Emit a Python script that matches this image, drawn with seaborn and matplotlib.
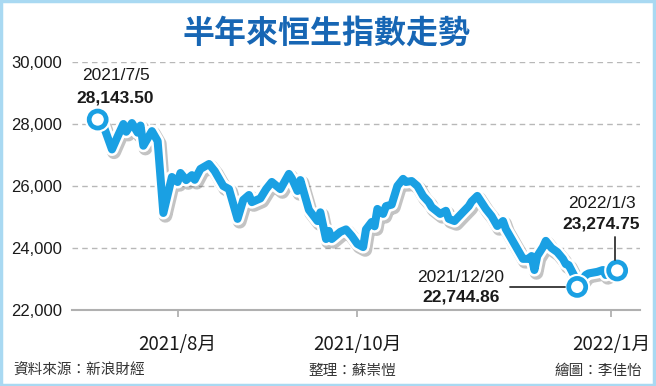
import matplotlib
matplotlib.use("Agg")
import matplotlib.pyplot as plt
import matplotlib.patheffects as pe
from matplotlib.patches import Rectangle
from matplotlib.lines import Line2D
import seaborn as sns
import pandas as pd

# ---------------- data ----------------
dates = [
    "2021-07-05", "2021-07-07", "2021-07-10", "2021-07-12", "2021-07-14", "2021-07-15",
    "2021-07-17", "2021-07-19", "2021-07-20", "2021-07-21", "2021-07-24", "2021-07-26",
    "2021-07-28", "2021-07-31", "2021-08-02", "2021-08-03", "2021-08-05", "2021-08-07",
    "2021-08-08", "2021-08-10", "2021-08-13", "2021-08-15", "2021-08-18", "2021-08-20",
    "2021-08-23", "2021-08-25", "2021-08-27", "2021-08-28", "2021-08-31", "2021-09-02",
    "2021-09-04", "2021-09-07", "2021-09-10", "2021-09-11", "2021-09-13", "2021-09-14",
    "2021-09-17", "2021-09-20", "2021-09-21", "2021-09-23", "2021-09-24", "2021-09-25",
    "2021-09-28", "2021-09-30", "2021-10-02", "2021-10-04", "2021-10-06", "2021-10-07",
    "2021-10-09", "2021-10-10", "2021-10-11", "2021-10-13", "2021-10-14", "2021-10-16",
    "2021-10-18", "2021-10-20", "2021-10-21", "2021-10-23", "2021-10-25", "2021-10-27",
    "2021-10-29", "2021-10-30", "2021-11-02", "2021-11-04", "2021-11-05", "2021-11-07",
    "2021-11-10", "2021-11-12", "2021-11-13", "2021-11-15", "2021-11-18", "2021-11-20",
    "2021-11-22", "2021-11-24", "2021-11-25", "2021-11-27", "2021-11-29", "2021-12-01",
    "2021-12-03", "2021-12-04", "2021-12-05", "2021-12-06", "2021-12-08", "2021-12-09",
    "2021-12-11", "2021-12-13", "2021-12-15", "2021-12-16", "2021-12-17", "2021-12-19",
    "2021-12-20", "2021-12-23", "2021-12-24", "2021-12-27", "2021-12-29", "2021-12-30",
    "2022-01-01", "2022-01-03",
]
values = [
    28143.50, 27950, 27180, 27600, 28000, 27750,
    28030, 27720, 27950, 27300, 27770, 27450,
    25130, 26290, 26130, 26420, 26190, 26350,
    26200, 26550, 26710, 26480, 26000, 25900,
    24940, 25550, 25710, 25480, 25600, 25900,
    26130, 25900, 26390, 26250, 25840, 26190,
    25230, 24870, 25150, 24290, 24550, 24290,
    24520, 24600, 24390, 24130, 24030, 24600,
    24840, 24700, 25260, 25100, 25350, 25400,
    26000, 26230, 26130, 26160, 26000, 25680,
    25480, 25320, 25100, 25200, 24940, 24870,
    25160, 25350, 25500, 25680, 25260, 25030,
    24710, 24870, 24610, 24290, 23970, 23650,
    23650, 23740, 23290, 23740, 24030, 24230,
    24000, 23870, 23650, 23480, 23450, 23100,
    22744.86, 23130, 23180, 23230, 23290, 23130,
    23220, 23274.75,
]
highlight_dates = ["2021-07-05", "2021-12-20", "2022-01-03"]
highlight_labels = ["2021/7/5", "2021/12/20", "2022/1/3"]
highlight_values = ["28,143.50", "22,744.86", "23,274.75"]
y_ticks = [22000, 24000, 26000, 28000, 30000]
tick_dates = ["2021-08-02", "2021-10-04", "2022-01-01"]
tick_labels = ["2021/8月", "2021/10月", "2022/1月"]
title = "半年來恒生指數走勢"
footer = ["資料來源：新浪財經", "整理：蘇崇愷", "繪圖：李佳怡"]

# ---------------- style ----------------
BLUE = "#1aa0e3"
TITLE_BLUE = "#1766b4"
GRID = "#b8b8b8"
CJK = ["Noto Sans CJK TC", "DejaVu Sans"]
LAT = ["Liberation Sans", "DejaVu Sans"]

sns.set_theme(style="white")
plt.rcParams["font.family"] = CJK

W, H = 656, 386
fig = plt.figure(figsize=(W / 100, H / 100), dpi=100)
fig.patch.set_facecolor("white")
ax = fig.add_axes([72 / W, 1 - 310 / H, (640 - 72) / W, (310 - 62) / H])

df = pd.DataFrame({"date": pd.to_datetime(dates), "value": values})
sns.lineplot(data=df, x="date", y="value", ax=ax, color=BLUE, linewidth=5.8, zorder=5)
line = ax.lines[0]
line.set_solid_joinstyle("round")
line.set_solid_capstyle("round")
line.set_path_effects([
    pe.SimpleLineShadow(offset=(1.5, -2), shadow_color="#555555", alpha=0.35, linewidth=10),
    pe.Stroke(linewidth=9.5, foreground="white"),
    pe.Normal(),
])

hl = df[df["date"].isin(pd.to_datetime(highlight_dates))]
sns.scatterplot(data=hl, x="date", y="value", ax=ax, s=150, color="white",
                edgecolor=BLUE, linewidth=3.4, zorder=7, legend=False)
coll = ax.collections[-1]
coll.set_path_effects([
    pe.SimplePatchShadow(offset=(1.5, -2), shadow_rgbFace="#555555", alpha=0.3),
    pe.Stroke(linewidth=6.5, foreground="white"),
    pe.Normal(),
])

ax.set_ylim(y_ticks[0], y_ticks[-1])
ax.set_xlim(pd.Timestamp("2021-06-26"), pd.Timestamp("2022-01-11"))
ax.set_yticks(y_ticks)
ax.set_yticklabels([f"{v:,}" for v in y_ticks], fontsize=12, family=LAT, color="#1a1a1a")
ax.set_xticks(pd.to_datetime(tick_dates))
ax.set_xticklabels(tick_labels, fontsize=13.5, family=CJK, color="#1a1a1a")
ax.set_xlabel("")
ax.set_ylabel("")
ax.tick_params(axis="y", length=0, pad=7)
ax.tick_params(axis="x", length=5, width=1.2, color="#aaaaaa", pad=12, direction="out", bottom=True)
ax.yaxis.grid(True, linestyle=(0, (4, 3)), color=GRID, linewidth=1)
ax.xaxis.grid(False)
ax.set_axisbelow(True)
for s in ["top", "left", "right"]:
    ax.spines[s].set_visible(False)
ax.spines["bottom"].set_color("#b0b0b0")
ax.spines["bottom"].set_linewidth(1.5)
ax.patch.set_alpha(0)

# ---------------- annotations ----------------
def fx(px):
    return px / W

def fy(py):
    return 1 - py / H

fig.text(fx(116), fy(76), highlight_labels[0], ha="center", va="center",
         fontsize=12.5, family=LAT, color="#1a1a1a")
fig.text(fx(115), fy(98), highlight_values[0], ha="center", va="center",
         fontsize=12.5, family=LAT, weight="bold", color="#1a1a1a")

fig.text(fx(461), fy(277), highlight_labels[1], ha="center", va="center",
         fontsize=12.5, family=LAT, color="#1a1a1a")
fig.text(fx(461), fy(297), highlight_values[1], ha="center", va="center",
         fontsize=12.5, family=LAT, weight="bold", color="#1a1a1a")
fig.add_artist(Line2D([fx(510), fx(565)], [fy(287), fy(287)], color="#333333", lw=1.3))

fig.text(fx(602), fy(204), highlight_labels[2], ha="center", va="center",
         fontsize=12.5, family=LAT, color="#1a1a1a")
fig.text(fx(601), fy(224), highlight_values[2], ha="center", va="center",
         fontsize=12.5, family=LAT, weight="bold", color="#1a1a1a")
fig.add_artist(Line2D([fx(615), fx(615)], [fy(237), fy(260)], color="#333333", lw=1.3))

# title
fig.text(fx(326), fy(34), title, ha="center", va="center", fontsize=23,
         weight="bold", color=TITLE_BLUE, family=CJK)

# footer
fig.text(fx(13), fy(371), footer[0], ha="left", va="center", fontsize=10.5,
         color="#333333", family=CJK)
fig.text(fx(352), fy(371), footer[1], ha="center", va="center", fontsize=10.5,
         color="#333333", family=CJK)
fig.text(fx(642), fy(371), footer[2], ha="right", va="center", fontsize=10.5,
         color="#333333", family=CJK)

# border
fig.add_artist(Rectangle((0.002, 0.003), 0.995, 0.994, transform=fig.transFigure,
                         fill=False, lw=2.5, edgecolor="#a9d9f2"))

fig.savefig("out.png", dpi=100, facecolor="white")
